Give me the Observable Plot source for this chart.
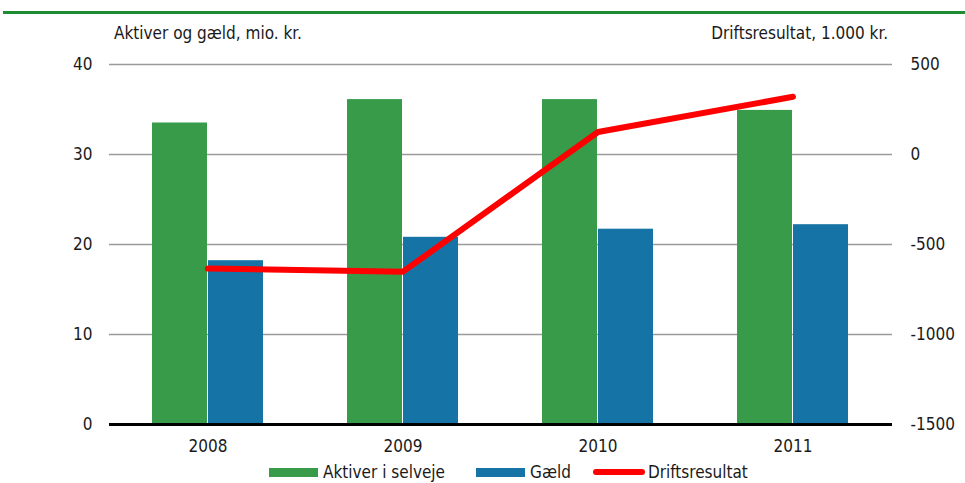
<!DOCTYPE html>
<html>
<head>
<meta charset="utf-8">
<script src="https://cdn.jsdelivr.net/npm/d3@7"></script>
<script src="https://cdn.jsdelivr.net/npm/@observablehq/plot@0.6"></script>
<style>
  html, body { margin: 0; padding: 0; background: #fff; }
  body { width: 965px; height: 483px; overflow: hidden; font-family: "Liberation Sans Narrow", "DejaVu Sans Condensed", sans-serif; color: #1a1a1a; }
  #top { position: relative; height: 48px; }
  #rule { position: absolute; top: 11px; left: 3px; right: 0; height: 3px; background: #1e8c32; }
  .ttl { position: absolute; top: 22px; font-size: 17px; line-height: 22px; }
  #ttlL { left: 114px; }
  #ttlR { right: 77px; }
  #chart svg { display: block; }
  #legend { display: flex; align-items: center; height: 24px; padding-left: 269px; font-size: 17px; }
  .sw { display: inline-block; width: 49px; height: 9px; margin-right: 5px; }
  .ln { display: inline-block; width: 52px; height: 6px; border-radius: 3px; background: #ff0000; margin-right: 3px; }
  .item { display: flex; align-items: center; }
</style>
</head>
<body>
<div id="top">
  <div id="rule"></div>
  <div class="ttl" id="ttlL">Aktiver og gæld, mio. kr.</div>
  <div class="ttl" id="ttlR">Driftsresultat, 1.000 kr.</div>
</div>
<div id="chart"></div>
<div id="legend"></div>
<script>
const years = ["2008", "2009", "2010", "2011"];
const aktiver = [33.5, 36.1, 36.1, 34.9];
const gaeld = [18.2, 20.8, 21.7, 22.2];
const drift = [-634, -651, 125, 321];
const leftTicks = [0, 10, 20, 30, 40];
const rightTicks = [-1500, -1000, -500, 0, 500];
const seriesNames = ["Aktiver i selveje", "Gæld", "Driftsresultat"];
const colors = ["#379b4a", "#1673a5", "#ff0000"];

// map right-axis values onto the left scale (−1500..500 → 0..40)
const toLeft = v => (v + 1500) / 50;

const bars1 = years.map((y, i) => ({year: y, value: aktiver[i]}));
const bars2 = years.map((y, i) => ({year: y, value: gaeld[i]}));
const line = years.map((y, i) => ({year: y, value: toLeft(drift[i])}));

const chart = Plot.plot({
  width: 965,
  height: 412,
  marginTop: 16,
  marginBottom: 36,
  marginLeft: 109,
  marginRight: 73,
  style: {fontFamily: "'Liberation Sans Narrow', 'DejaVu Sans Condensed', sans-serif", fontSize: "17px", color: "#1a1a1a"},
  x: {domain: years, paddingInner: 0.4286, paddingOuter: 0.2143, label: null},
  y: {domain: [0, 40], label: null},
  marks: [
    Plot.ruleY(leftTicks.slice(1), {stroke: "#9a9a9a", strokeWidth: 1.5}),
    Plot.barY(bars1, {x: "year", y: "value", fill: colors[0], insetRight: 56}),
    Plot.barY(bars2, {x: "year", y: "value", fill: colors[1], insetLeft: 56}),
    Plot.ruleY([0], {stroke: "#000", strokeWidth: 3}),
    Plot.line(line, {x: "year", y: "value", stroke: colors[2], strokeWidth: 6, strokeLinecap: "round", strokeLinejoin: "round"}),
    Plot.axisY(leftTicks, {anchor: "left", tickSize: 0, tickPadding: 17, label: null}),
    Plot.axisY(rightTicks.map(toLeft), {anchor: "right", tickSize: 0, tickPadding: 18, label: null, tickFormat: (d, i) => String(rightTicks[i])}),
    Plot.axisX({tickSize: 0, tickPadding: 15, label: null})
  ]
});
document.getElementById("chart").appendChild(chart);

const legend = document.getElementById("legend");
seriesNames.forEach((name, i) => {
  const item = document.createElement("div");
  item.className = "item";
  item.style.marginRight = i === 0 ? "31px" : "22px";
  const mark = document.createElement("span");
  if (i < 2) { mark.className = "sw"; mark.style.background = colors[i]; }
  else { mark.className = "ln"; }
  item.appendChild(mark);
  item.appendChild(document.createTextNode(name));
  legend.appendChild(item);
});
</script>
</body>
</html>
